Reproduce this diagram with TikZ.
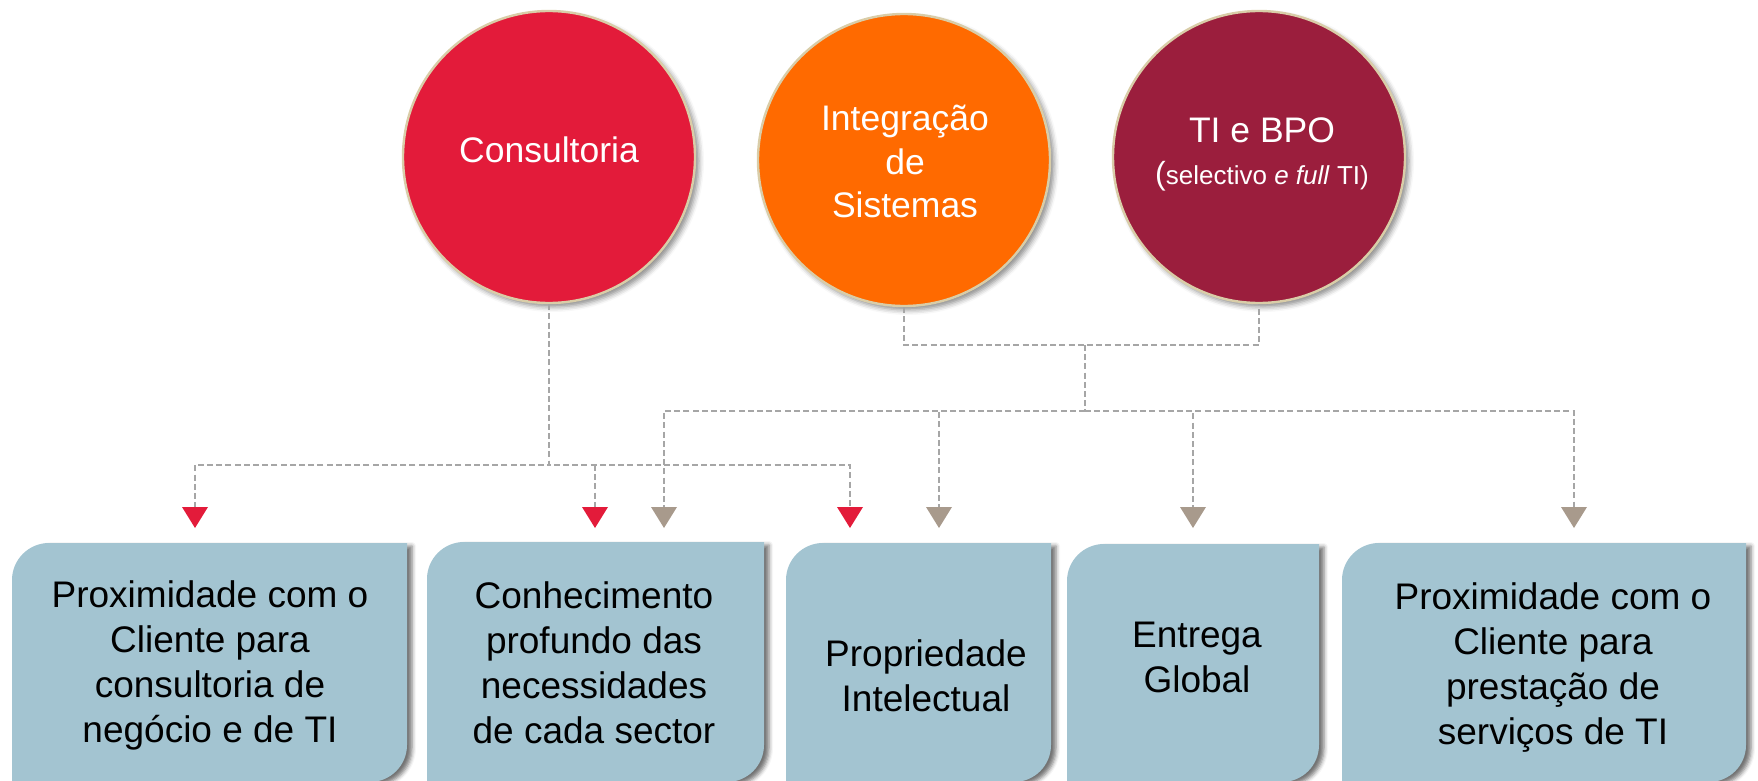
\documentclass[tikz,border=0pt]{standalone}
\usepackage{fontspec}
\setmainfont{Liberation Sans}
\usetikzlibrary{arrows.meta,shadows.blur,calc}
\definecolor{cred}{HTML}{E31B3A}
\definecolor{corange}{HTML}{FF6A00}
\definecolor{cmaroon}{HTML}{9B1E3D}
\definecolor{cbox}{HTML}{A3C4D1}
\definecolor{cline}{HTML}{A6A6A6}
\definecolor{ctip}{HTML}{A89A8C}
\definecolor{cborder}{HTML}{D9CDA8}
\newcommand\tabbox[4]{%
  \path[boxsty] (#1,#4) -- (#1,#2+37) .. controls (#1,#2+16.6) and (#1+16.6,#2) .. (#1+37,#2)
    -- (#3,#2) -- (#3,#4-37) .. controls (#3,#4-16.6) and (#3-16.6,#4) .. (#3-37,#4) -- cycle;}
\begin{document}
\begin{tikzpicture}[x=0.5pt,y=-0.5pt,
  bubble/.style={circle, minimum size=146pt, inner sep=0pt, draw=cborder, line width=1.2pt,
    blur shadow={shadow xshift=2pt, shadow yshift=-2pt, shadow blur radius=2.5pt, shadow opacity=45}},
  bubbletext/.style={text=white, font=\fontsize{17.75pt}{21.75pt}\selectfont, align=center, inner sep=0pt},
  boxtext/.style={text=black, font=\fontsize{18.5pt}{22.5pt}\selectfont, align=center, inner sep=0pt},
  boxsty/.style={fill=cbox, blur shadow={shadow xshift=2.5pt, shadow yshift=-1.5pt, shadow blur radius=2pt, shadow opacity=55}},
  conn/.style={draw=cline, line width=1pt, dash pattern=on 3pt off 1.6pt},
  redtip/.style={-{Triangle[width=13pt,length=10.5pt,color=cred,line width=0pt]}},
  graytip/.style={-{Triangle[width=13pt,length=10.5pt,color=ctip,line width=0pt]}}
]
\path[use as bounding box] (0,0) rectangle (1758,781);
\clip (0,0) rectangle (1758,781);

% boxes
\tabbox{12}{543}{407}{782}
\tabbox{427}{542}{764}{782}
\tabbox{786}{543}{1051}{782}
\tabbox{1067}{544}{1319}{782}
\tabbox{1342}{543}{1746}{782}

\node[boxtext] (t1) at (210,665) {Proximidade com o\\Cliente para\\consultoria de\\negócio e de TI};
\node[boxtext] (t2) at (594,663) {Conhecimento\\profundo das\\necessidades\\de cada sector};
\node[boxtext] (t3) at (926,675.5) {Propriedade\\Intelectual};
\node[boxtext] (t4) at (1197,657) {Entrega\\Global};
\node[boxtext] (t5) at (1553,668) {Proximidade com o\\Cliente para\\prestação de\\serviços de TI};

% circles
\node[bubble, fill=cred] (c1) at (549,157) {};
\node[bubble, fill=corange] (c2) at (904,160) {};
\node[bubble, fill=cmaroon] (c3) at (1259,157) {};
\node[bubbletext] (l1) at (549,150) {Consultoria};
\node[bubbletext] (l2) at (905,161.5) {Integração\\de\\Sistemas};
\node[bubbletext, font=\fontsize{17.75pt}{21pt}\selectfont] (l3) at (1262,154.5)
  {TI e BPO\\{\fontsize{16pt}{21pt}\selectfont(}{\fontsize{13pt}{21pt}\selectfont selectivo \textit{e full} TI)}};

% coordinates
\coordinate (hr) at (0,465);
\coordinate (ar1) at (195,528);
\coordinate (ar2) at (595,528);
\coordinate (ar3) at (850,528);
\coordinate (hub) at (1085,345);
\coordinate (hub2) at (1085,411);
\coordinate (ag1) at (664,528);
\coordinate (ag2) at (939,528);
\coordinate (ag3) at (1193,528);
\coordinate (ag4) at (1574,528);

% connectors
\draw[conn, redtip] (c1.south) |- (ar1 |- hr) -- (ar1);
\draw[conn, redtip] (c1.south) |- (ar3 |- hr) -- (ar3);
\draw[conn, redtip] (ar2 |- hr) -- (ar2);
\draw[conn] (c2.south) |- (hub) -| (c3.south);
\draw[conn] (hub) -- (hub2);
\draw[conn, graytip] (hub2) -| (ag1);
\draw[conn, graytip] (hub2) -| (ag2);
\draw[conn, graytip] (hub2) -| (ag3);
\draw[conn, graytip] (hub2) -| (ag4);
\end{tikzpicture}
\end{document}
